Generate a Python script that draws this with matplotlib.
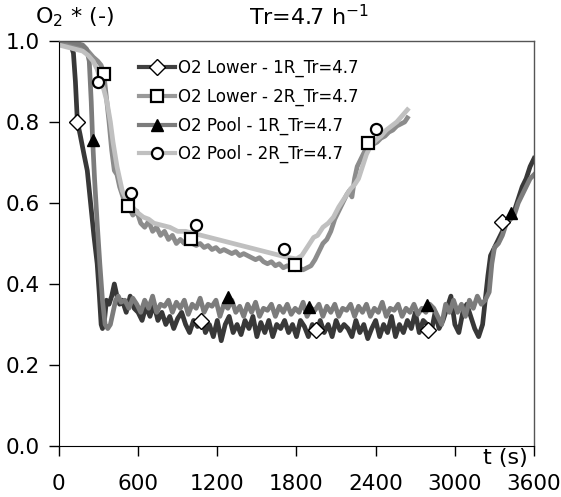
import matplotlib
matplotlib.use("Agg")
import matplotlib.pyplot as plt
from matplotlib.lines import Line2D

plt.rcParams['font.family'] = ['DejaVu Sans']

# ---- data ----
# O2 Lower - 1R
t_low1 = [0, 30, 60, 90, 110, 125, 140, 160, 190, 215, 240, 265, 290, 305, 320, 330, 345, 360, 380,
          400, 420, 440, 460, 480, 510, 540, 570, 600, 630, 660, 690, 720, 750, 780, 810, 840, 870,
          900, 930, 960, 990, 1020, 1050, 1080, 1110, 1140, 1170, 1200, 1230, 1260, 1290, 1320, 1350,
          1380, 1410, 1440, 1470, 1500, 1530, 1560, 1590, 1620, 1650, 1680, 1710, 1740, 1770, 1800,
          1830, 1860, 1890, 1920, 1950, 1980, 2010, 2040, 2070, 2100, 2130, 2160, 2190, 2220, 2250,
          2280, 2310, 2340, 2370, 2400, 2430, 2460, 2490, 2520, 2550, 2580, 2610, 2640, 2670, 2700,
          2730, 2760, 2790, 2820, 2850, 2880, 2910, 2940, 2970, 3000, 3030, 3060, 3090, 3120, 3150,
          3180, 3210, 3230, 3250, 3270, 3300, 3330, 3360, 3390, 3420, 3450, 3480, 3510, 3540, 3570, 3600]
o2_low1 = [1.00, 1.00, 0.995, 0.99, 0.97, 0.90, 0.80, 0.77, 0.72, 0.68, 0.60, 0.52, 0.45, 0.38, 0.30, 0.29, 0.31, 0.36, 0.35,
           0.37, 0.40, 0.37, 0.35, 0.36, 0.33, 0.37, 0.34, 0.33, 0.31, 0.345, 0.32, 0.35, 0.31, 0.33, 0.30, 0.32, 0.29,
           0.315, 0.33, 0.30, 0.28, 0.31, 0.295, 0.32, 0.28, 0.30, 0.27, 0.31, 0.26, 0.30, 0.32, 0.28, 0.30,
           0.275, 0.31, 0.29, 0.32, 0.27, 0.305, 0.28, 0.31, 0.27, 0.30, 0.29, 0.31, 0.28, 0.30, 0.27,
           0.31, 0.295, 0.27, 0.30, 0.28, 0.31, 0.28, 0.30, 0.27, 0.31, 0.285, 0.30, 0.29, 0.27, 0.31,
           0.28, 0.30, 0.265, 0.29, 0.31, 0.27, 0.30, 0.28, 0.32, 0.27, 0.30, 0.28, 0.31, 0.29, 0.33,
           0.28, 0.31, 0.30, 0.28, 0.33, 0.29, 0.31, 0.34, 0.37, 0.30, 0.28, 0.33, 0.35, 0.32, 0.29,
           0.27, 0.30, 0.36, 0.42, 0.47, 0.49, 0.51, 0.53, 0.55, 0.56, 0.58, 0.61, 0.64, 0.66, 0.69, 0.71]

# O2 Lower - 2R
t_low2 = [0, 60, 120, 180, 220, 260, 295, 320, 340, 360, 380, 400, 420, 440, 460, 480, 500, 530, 560,
          590, 620, 650, 680, 710, 740, 770, 800, 830, 860, 890, 920, 950, 980, 1010, 1040, 1070, 1100,
          1130, 1160, 1190, 1220, 1250, 1280, 1310, 1340, 1370, 1400, 1430, 1460, 1490, 1520, 1550,
          1580, 1610, 1640, 1670, 1700, 1730, 1760, 1790, 1820, 1850, 1880, 1910, 1940, 1970, 2000,
          2030, 2060, 2090, 2120, 2150, 2180, 2200, 2220, 2240, 2260, 2290, 2320, 2350, 2380, 2410,
          2440, 2470, 2500, 2530, 2560, 2590, 2620, 2640]
o2_low2 = [1.00, 0.995, 0.99, 0.985, 0.975, 0.96, 0.95, 0.94, 0.92, 0.86, 0.80, 0.73, 0.68, 0.67, 0.64, 0.62, 0.60, 0.59, 0.57,
           0.58, 0.55, 0.54, 0.555, 0.53, 0.54, 0.52, 0.53, 0.51, 0.52, 0.50, 0.51, 0.50, 0.505, 0.50, 0.495, 0.50, 0.49,
           0.495, 0.485, 0.49, 0.48, 0.485, 0.48, 0.475, 0.48, 0.47, 0.475, 0.47, 0.465, 0.46, 0.465, 0.455,
           0.45, 0.455, 0.445, 0.45, 0.44, 0.445, 0.44, 0.435, 0.44, 0.435, 0.44, 0.445, 0.46, 0.48, 0.50,
           0.51, 0.53, 0.56, 0.58, 0.60, 0.62, 0.63, 0.615, 0.66, 0.69, 0.71, 0.73, 0.74, 0.745, 0.75,
           0.76, 0.765, 0.775, 0.78, 0.79, 0.795, 0.80, 0.81]

# O2 Pool - 1R
t_pool1 = [0, 60, 120, 180, 210, 230, 245, 255, 270, 290, 310, 330, 350, 370, 390, 410, 430, 450, 470,
           500, 530, 560, 590, 620, 650, 680, 710, 740, 770, 800, 830, 860, 890, 920, 950, 980, 1010,
           1040, 1070, 1100, 1130, 1160, 1190, 1220, 1250, 1280, 1310, 1340, 1370, 1400, 1430, 1460,
           1490, 1520, 1550, 1580, 1610, 1640, 1670, 1700, 1730, 1760, 1790, 1820, 1850, 1880, 1910,
           1940, 1970, 2000, 2030, 2060, 2090, 2120, 2150, 2180, 2210, 2240, 2270, 2300, 2330, 2360,
           2390, 2420, 2450, 2480, 2510, 2540, 2570, 2600, 2630, 2660, 2690, 2720, 2750, 2780, 2810,
           2840, 2870, 2900, 2930, 2960, 2990, 3020, 3050, 3080, 3110, 3140, 3170, 3200, 3230, 3260,
           3280, 3300, 3330, 3360, 3390, 3420, 3450, 3480, 3510, 3540, 3570, 3600]
o2_pool1 = [1.00, 1.00, 0.995, 0.99, 0.98, 0.95, 0.85, 0.76, 0.66, 0.55, 0.45, 0.36, 0.30, 0.29, 0.30, 0.33, 0.36, 0.37, 0.355,
            0.36, 0.34, 0.365, 0.35, 0.33, 0.36, 0.34, 0.37, 0.33, 0.35, 0.345, 0.36, 0.33, 0.355, 0.34, 0.36, 0.325, 0.35,
            0.34, 0.365, 0.33, 0.35, 0.345, 0.36, 0.32, 0.35, 0.34, 0.36, 0.33, 0.345, 0.32, 0.35, 0.33,
            0.355, 0.32, 0.34, 0.335, 0.35, 0.32, 0.345, 0.33, 0.35, 0.325, 0.34, 0.33, 0.355, 0.32, 0.34,
            0.335, 0.35, 0.32, 0.345, 0.33, 0.35, 0.32, 0.34, 0.335, 0.35, 0.32, 0.345, 0.33, 0.35, 0.32,
            0.34, 0.33, 0.355, 0.32, 0.34, 0.335, 0.35, 0.32, 0.34, 0.33, 0.35, 0.325, 0.34, 0.33, 0.35,
            0.34, 0.32, 0.30, 0.35, 0.33, 0.36, 0.33, 0.35, 0.32, 0.36, 0.34, 0.37, 0.35, 0.36, 0.38,
            0.45, 0.49, 0.50, 0.52, 0.55, 0.56, 0.57, 0.60, 0.62, 0.64, 0.66, 0.67]

# O2 Pool - 2R
t_pool2 = [0, 60, 120, 180, 220, 260, 290, 320, 340, 364, 390, 410, 440, 460, 480, 510, 540, 570, 600,
           640, 680, 720, 780, 840, 900, 960, 1020, 1080, 1140, 1200, 1260, 1320, 1380, 1440, 1500,
           1560, 1620, 1680, 1740, 1800, 1840, 1870, 1900, 1930, 1960, 2000, 2040, 2080, 2120, 2150,
           2180, 2210, 2240, 2270, 2300, 2330, 2360, 2400, 2440, 2480, 2520, 2560, 2600, 2640]
o2_pool2 = [0.99, 0.985, 0.98, 0.975, 0.965, 0.95, 0.93, 0.90, 0.88, 0.85, 0.80, 0.75, 0.69, 0.66, 0.63, 0.61, 0.60, 0.585, 0.575,
            0.565, 0.56, 0.55, 0.545, 0.54, 0.53, 0.53, 0.525, 0.52, 0.515, 0.51, 0.505, 0.50, 0.495, 0.49, 0.485,
            0.48, 0.475, 0.47, 0.465, 0.462, 0.47, 0.485, 0.50, 0.515, 0.52, 0.54, 0.55, 0.565, 0.59, 0.605,
            0.62, 0.635, 0.645, 0.66, 0.69, 0.72, 0.74, 0.755, 0.765, 0.78, 0.79, 0.80, 0.815, 0.83]

# marker positions (separate sparse series)
mk_t_low1 = [136, 1076, 1948, 2797, 3357]
mk_v_low1 = [0.80, 0.309, 0.286, 0.286, 0.553]
mk_t_low2 = [341, 523, 1000, 1789, 2343]
mk_v_low2 = [0.918, 0.593, 0.511, 0.447, 0.748]
mk_t_pool1 = [258, 1281, 1895, 2790, 3424]
mk_v_pool1 = [0.755, 0.368, 0.343, 0.348, 0.575]
mk_t_pool2 = [295, 545, 1038, 1706, 2403]
mk_v_pool2 = [0.899, 0.625, 0.546, 0.486, 0.783]

labels = ['O2 Lower - 1R_Tr=4.7', 'O2 Lower - 2R_Tr=4.7',
          'O2 Pool - 1R_Tr=4.7', 'O2 Pool - 2R_Tr=4.7']
x_ticks = [0, 600, 1200, 1800, 2400, 3000, 3600]
y_ticks = [0.0, 0.2, 0.4, 0.6, 0.8, 1.0]

fig = plt.figure(figsize=(5.61, 4.97), dpi=100)
ax = fig.add_axes([0.105, 0.1026, 0.847, 0.815])

lw = 3.4
ax.plot(t_low1, o2_low1, color='#383838', lw=lw, zorder=2)
ax.plot(t_low2, o2_low2, color='#8c8c8c', lw=lw, zorder=2)
ax.plot(t_pool1, o2_pool1, color='#7c7c7c', lw=lw, zorder=2)
ax.plot(t_pool2, o2_pool2, color='#c0c0c0', lw=lw, zorder=2)

ax.plot(mk_t_low1, mk_v_low1, ls='none', marker='D', ms=8, mfc='white', mec='black', mew=1.0, zorder=5)
ax.plot(mk_t_low2, mk_v_low2, ls='none', marker='s', ms=9, mfc='white', mec='black', mew=1.6, zorder=5)
ax.plot(mk_t_pool1, mk_v_pool1, ls='none', marker='^', ms=9, mfc='black', mec='black', zorder=5)
ax.plot(mk_t_pool2, mk_v_pool2, ls='none', marker='o', ms=8, mfc='white', mec='black', mew=1.6, zorder=5)

ax.set_xlim(0, 3600)
ax.set_ylim(0, 1.0)
ax.set_xticks(x_ticks)
ax.set_yticks(y_ticks)
ax.set_yticklabels([f'{v:.1f}' for v in y_ticks])
ax.tick_params(direction='out', length=7, width=1, labelsize=15.5)
ax.tick_params(axis='x', pad=13)
ax.tick_params(axis='y', pad=7)
for side in ['top', 'right']:
    ax.spines[side].set_color('#555555')
    ax.spines[side].set_linewidth(1.0)

handles = [
    Line2D([], [], color='#404040', lw=3, marker='D', ms=8, mfc='white', mec='black'),
    Line2D([], [], color='#999999', lw=3, marker='s', ms=9, mfc='white', mec='black', mew=1.6),
    Line2D([], [], color='#7c7c7c', lw=3, marker='^', ms=9, mfc='black', mec='black'),
    Line2D([], [], color='#c0c0c0', lw=3, marker='o', ms=8, mfc='white', mec='black', mew=1.6),
]
ax.legend(handles, labels, loc='upper left', bbox_to_anchor=(0.247, 0.881),
          bbox_transform=fig.transFigure, frameon=False, fontsize=12,
          handlelength=2.2, handletextpad=0.15, labelspacing=0.62, borderaxespad=0,
          borderpad=0)

fig.text(0.062, 0.942, r'O$_2$ * (-)', fontsize=16, ha='left', va='bottom')
fig.text(0.551, 0.942, r'Tr=4.7 h$^{-1}$', fontsize=16, ha='center', va='bottom')
ax.text(3380, -0.005, 't (s)', fontsize=16, ha='center', va='top')

fig.savefig('out.png', dpi=100)
